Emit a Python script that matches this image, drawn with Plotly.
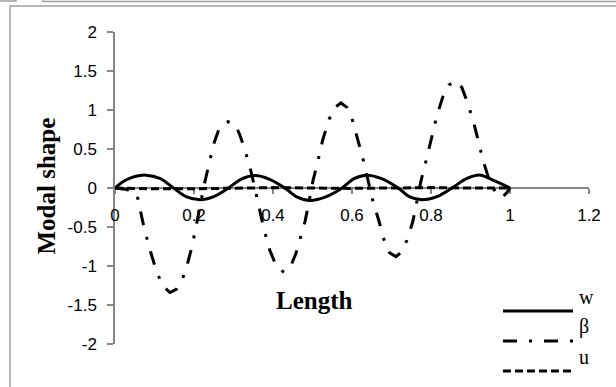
import plotly.graph_objects as go

# Position along the member (normalised length)
length_w = [0, 0.02, 0.04, 0.078, 0.115, 0.148, 0.18, 0.215, 0.25, 0.287, 0.32, 0.355,
            0.39, 0.43, 0.46, 0.494, 0.535, 0.575, 0.605, 0.638, 0.675, 0.717, 0.745,
            0.777, 0.815, 0.853, 0.89, 0.925, 0.962, 1.0]
w_vals = [0, 0.08, 0.13, 0.165, 0.12, 0, -0.11, -0.15, -0.11, 0, 0.115, 0.16,
          0.115, 0, -0.115, -0.16, -0.11, 0, 0.12, 0.165, 0.12, 0, -0.11,
          -0.15, -0.11, 0, 0.12, 0.165, 0.09, 0]

length_beta = [0, 0.03, 0.055, 0.064, 0.074, 0.089, 0.104, 0.12, 0.139, 0.155, 0.17,
               0.182, 0.195, 0.205, 0.215, 0.225, 0.238, 0.251, 0.265, 0.286, 0.304,
               0.316, 0.327, 0.342, 0.354, 0.367, 0.377, 0.392, 0.41, 0.428, 0.445,
               0.458, 0.47, 0.481, 0.491, 0.501, 0.514, 0.526, 0.542, 0.556, 0.572,
               0.588, 0.6, 0.613, 0.628, 0.641, 0.653, 0.668, 0.681, 0.695, 0.711,
               0.726, 0.739, 0.754, 0.766, 0.775, 0.79, 0.803, 0.815, 0.83, 0.845,
               0.863, 0.878, 0.889, 0.906, 0.919, 0.932, 0.945, 0.955, 0.968, 0.98,
               0.992, 1.0]
beta_vals = [0, -0.02, -0.07, -0.28, -0.52, -0.8, -1.05, -1.25, -1.34, -1.3, -1.18,
             -1.0, -0.75, -0.5, -0.23, 0.02, 0.31, 0.58, 0.78, 0.85, 0.82,
             0.68, 0.52, 0.26, 0.0, -0.28, -0.53, -0.8, -1.02, -1.08, -1.0,
             -0.84, -0.64, -0.43, -0.18, 0.09, 0.35, 0.62, 0.88, 1.03, 1.09,
             1.03, 0.89, 0.66, 0.37, 0.09, -0.17, -0.42, -0.66, -0.83, -0.88,
             -0.82, -0.67, -0.43, -0.15, 0.1, 0.4, 0.68, 0.93, 1.17, 1.32,
             1.37, 1.29, 1.14, 0.88, 0.62, 0.35, 0.14, 0.02, -0.09, -0.12,
             -0.06, 0]

length_u = [0, 0.1, 0.2, 0.3, 0.4, 0.5, 0.6, 0.7, 0.8, 0.9, 1.0]
u_vals = [0, -0.01, -0.01, 0, 0.005, 0, -0.005, 0, 0.005, 0, 0]

x_ticks = [0, 0.2, 0.4, 0.6, 0.8, 1.0, 1.2]
x_ticktext = ["0", "0.2", "0.4", "0.6", "0.8", "1", "1.2"]
y_ticks = [-2, -1.5, -1, -0.5, 0, 0.5, 1, 1.5, 2]
y_ticktext = ["-2", "-1.5", "-1", "-0.5", "0", "0.5", "1", "1.5", "2"]

series_names = ["w", "β", "u"]

W, H = 616, 387
L, R, T, B = 115, 589, 32, 344


def px(x):
    return (x - L) / (R - L)


def py(y):
    return (B - y) / (B - T)


BETA_DASH = "14px,12px,3px,12px"
U_DASH = "8px,4px"

fig = go.Figure()
fig.add_trace(go.Scatter(x=length_w, y=w_vals, mode="lines", name=series_names[0],
                         line=dict(color="black", width=3, shape="spline", smoothing=0.9)))
fig.add_trace(go.Scatter(x=length_beta, y=beta_vals, mode="lines", name=series_names[1],
                         line=dict(color="black", width=3, dash=BETA_DASH)))
fig.add_trace(go.Scatter(x=length_u, y=u_vals, mode="lines", name=series_names[2],
                         line=dict(color="black", width=3, dash=U_DASH)))

tick_font = dict(family="Liberation Sans", size=17, color="black")
axis_grey = "#868686"

fig.update_layout(
    width=W, height=H,
    margin=dict(l=L, r=W - R, t=T, b=H - B),
    paper_bgcolor="white", plot_bgcolor="white",
    showlegend=False,
    xaxis=dict(range=[0, 1.2], tickvals=x_ticks, ticktext=x_ticktext,
               anchor="free", position=0.5, showline=True, linecolor=axis_grey,
               linewidth=1.5, ticks="outside", ticklen=5, tickcolor=axis_grey,
               tickwidth=1.5, showgrid=False, zeroline=False, tickfont=tick_font,
               layer="below traces", ticklabelstandoff=7),
    yaxis=dict(range=[-2, 2], tickvals=y_ticks, ticktext=y_ticktext,
               showline=True, linecolor=axis_grey, linewidth=1.5, ticks="outside",
               ticklen=6, tickcolor=axis_grey, tickwidth=1.5, showgrid=False,
               zeroline=False, tickfont=tick_font, layer="below traces",
               ticklabelstandoff=7),
)

# Chart frame and the partial boxes above it
frame = "#a0a0a0"
fig.add_shape(type="rect", xref="paper", yref="paper", x0=px(10), x1=px(640),
              y0=py(420), y1=py(6), line=dict(color=frame, width=1.5))
fig.add_shape(type="rect", xref="paper", yref="paper", x0=px(-5), x1=px(16),
              y0=py(1), y1=py(-10), line=dict(color=frame, width=1.5))
fig.add_shape(type="rect", xref="paper", yref="paper", x0=px(43), x1=px(640),
              y0=py(1.5), y1=py(-10), line=dict(color=frame, width=1.5))

# Axis titles
title_font = dict(family="Liberation Serif", size=25, color="black")
fig.add_annotation(text="<b>Modal shape</b>", xref="paper", yref="paper",
                   x=px(30), y=py(186), textangle=-90, showarrow=False, font=title_font)
fig.add_annotation(text="<b>Length</b>", xref="paper", yref="paper",
                   x=px(314), y=py(316), showarrow=False, font=title_font)

# Legend drawn as line samples with labels
legend_rows = [311, 341, 371]
legend_dash = ["solid", BETA_DASH, U_DASH]
for name, row, dash in zip(series_names, legend_rows, legend_dash):
    fig.add_shape(type="line", xref="paper", yref="paper", x0=px(503), x1=px(573),
                  y0=py(row), y1=py(row), line=dict(color="black", width=3, dash=dash))
    fig.add_annotation(text=name, xref="paper", yref="paper", x=px(577), y=py(row - 1),
                       xanchor="left", showarrow=False,
                       font=dict(family="Liberation Serif", size=20, color="black"))

fig.write_html("out.html")
